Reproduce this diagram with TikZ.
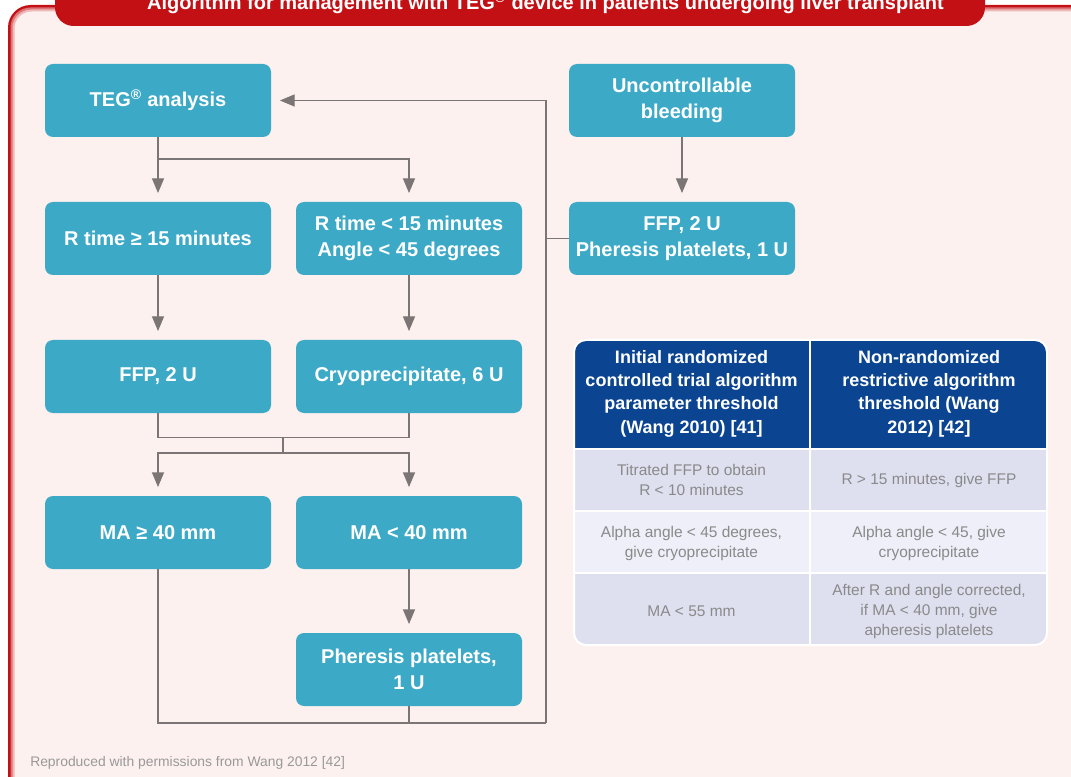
\documentclass[tikz,border=0pt]{standalone}
\usepackage{fontspec}
\setmainfont{Liberation Sans}
\usetikzlibrary{arrows.meta}
\definecolor{boxc}{HTML}{3CA9C7}
\definecolor{linec}{HTML}{7B7575}
\definecolor{hdrc}{HTML}{0B4491}
\definecolor{rowa}{HTML}{DEDFEF}
\definecolor{rowb}{HTML}{EEEFF8}
\definecolor{bodyc}{HTML}{8A8A8A}
\definecolor{panelc}{HTML}{FCF1EE}
\definecolor{redc}{HTML}{C31015}
\definecolor{footc}{HTML}{999999}
\tikzset{
  box/.style={fill=boxc, rounded corners=6pt, minimum width=169.5pt, minimum height=54.75pt,
    inner sep=0pt, text=white, font=\bfseries\fontsize{15}{19.5}\selectfont, align=center},
  conn/.style={draw=linec, line width=0.9pt},
  arr/.style={conn, -{Triangle[length=11pt,width=9pt]}, shorten >=6.5pt},
  hdr/.style={text=white, font=\bfseries\fontsize{13.5}{17.5}\selectfont, align=center, inner sep=0pt},
  cell/.style={text=bodyc, font=\fontsize{11.6}{15}\selectfont, align=center, inner sep=0pt},
}
\begin{document}
\begin{tikzpicture}[x=0.75pt,y=-0.75pt]
\useasboundingbox (0,0) rectangle (1071,777);
\clip (0,0) rectangle (1071,777);
\fill[white] (0,0) rectangle (1071,777);
% panel
\fill[redc, rounded corners=17pt] (8,5) rectangle (1100,820);
\fill[redc!55!panelc, rounded corners=15pt] (10.5,7.5) rectangle (1100,820);
\fill[redc!25!panelc, rounded corners=14pt] (12.5,9.5) rectangle (1100,820);
\fill[panelc, rounded corners=13pt] (14.5,11.5) rectangle (1100,820);
% title banner
\fill[redc, rounded corners=14pt] (55,-40) rectangle (985,26);
\node[anchor=base, text=white, font=\bfseries\fontsize{15}{18}\selectfont, inner sep=0pt] (title) at (545.5,9.5)
  {Algorithm for management with TEG\textsuperscript{®} device in patients undergoing liver transplant};
% flowchart nodes
\node[box] (teg) at (158,100.5) {TEG\textsuperscript{®} analysis};
\node[box] (rhi) at (158,238.5) {R time ≥ 15 minutes};
\node[box] (rlo) at (409,238.5) {R time < 15 minutes\\Angle < 45 degrees};
\node[box] (ffp) at (158,376.5) {FFP, 2 U};
\node[box] (cryo) at (409,376.5) {Cryoprecipitate, 6 U};
\node[box] (mahi) at (158,532.5) {MA ≥ 40 mm};
\node[box] (malo) at (409,532.5) {MA < 40 mm};
\node[box] (plt) at (409,669.5) {Pheresis platelets,\\1 U};
\node[box] (bleed) at (682,100.5) {Uncontrollable\\bleeding};
\node[box] (ffp2) at (682,238.5) {FFP, 2 U\\Pheresis platelets, 1 U};
% junctions
\coordinate (s1) at (158,159);
\coordinate (m1) at (283,437.5);
\coordinate (m2) at (283,453);
\coordinate (r1) at (546,723);
% connectors
\draw[conn] (teg) -- (s1);
\draw[arr] (s1) -- (rhi);
\draw[arr] (s1) -| (rlo);
\draw[arr] (rhi) -- (ffp);
\draw[arr] (rlo) -- (cryo);
\draw[conn] (ffp) |- (m1) -| (cryo);
\draw[conn] (m1) -- (m2);
\draw[arr] (m2) -| (mahi);
\draw[arr] (m2) -| (malo);
\draw[arr] (malo) -- (plt);
\draw[conn] (mahi) |- (r1);
\draw[conn] (plt) -- (plt |- r1);
\draw[arr] (r1) |- (teg);
\draw[arr] (bleed) -- (ffp2);
\draw[conn] (ffp2) -- (ffp2 -| r1);
% table
\begin{scope}
\clip[rounded corners=9pt] (574,340) rectangle (1047,645);
\fill[hdrc] (574,340) rectangle (1047,449);
\fill[rowa] (574,449) rectangle (1047,511);
\fill[rowb] (574,511) rectangle (1047,573);
\fill[rowa] (574,573) rectangle (1047,645);
\draw[white, line width=2pt] (574,449) -- (1047,449);
\draw[white, line width=2pt] (574,511) -- (1047,511);
\draw[white, line width=2pt] (574,573) -- (1047,573);
\draw[white, line width=2pt] (810,340) -- (810,645);
\end{scope}
\draw[white, line width=1.5pt, rounded corners=9pt] (574,340) rectangle (1047,645);
\node[hdr] (h1) at (691.5,393.5) {Initial randomized\\controlled trial algorithm\\parameter threshold\\(Wang 2010) [41]};
\node[hdr] (h2) at (929,393.5) {Non-randomized\\restrictive algorithm\\threshold (Wang\\2012) [42]};
\node[cell] (c11) at (691.5,480) {Titrated FFP to obtain\\R < 10 minutes};
\node[cell] (c12) at (929,480) {R > 15 minutes, give FFP};
\node[cell] (c21) at (691.5,543) {Alpha angle < 45 degrees,\\give cryoprecipitate};
\node[cell] (c22) at (929,543) {Alpha angle < 45, give\\cryoprecipitate};
\node[cell] (c31) at (691.5,611) {MA < 55 mm};
\node[cell] (c32) at (929,611) {After R and angle corrected,\\if MA < 40 mm, give\\apheresis platelets};
% footer
\node[anchor=base west, text=footc, font=\fontsize{10.4}{12}\selectfont, inner sep=0pt] (foot) at (30,766)
  {Reproduced with permissions from Wang 2012 [42]};
\end{tikzpicture}
\end{document}
